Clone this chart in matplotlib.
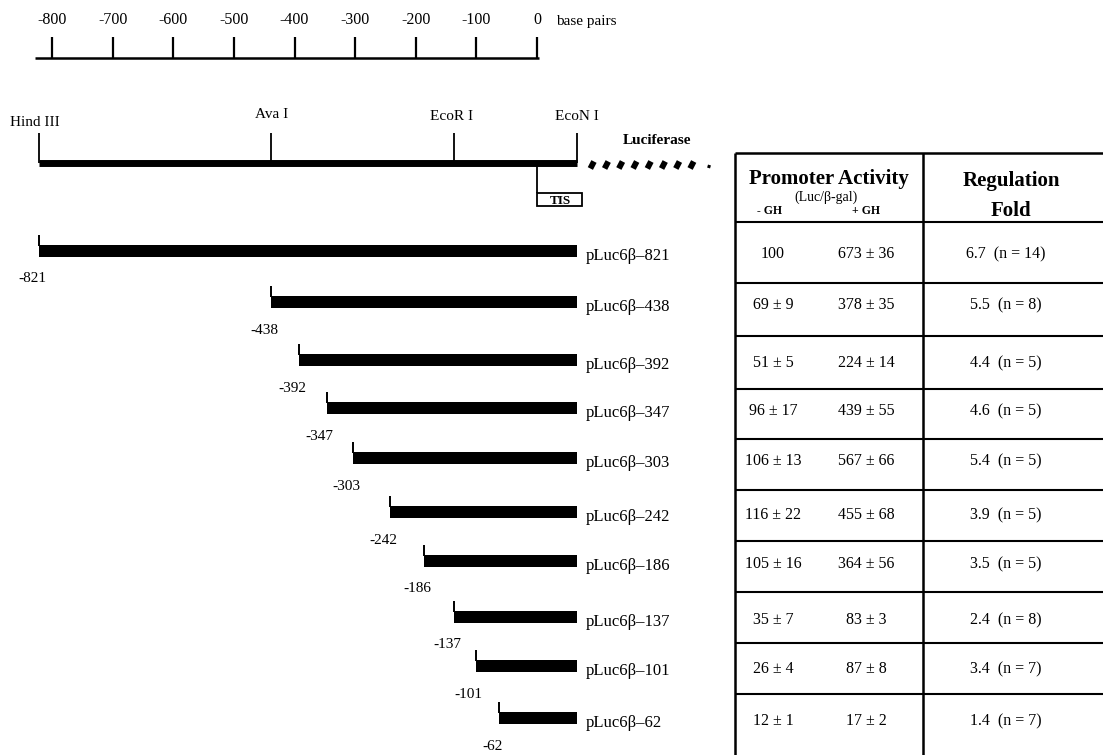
import matplotlib
matplotlib.use("Agg")
import matplotlib.pyplot as plt
from matplotlib.patches import Rectangle

plt.rcParams['font.family'] = ['Liberation Serif', 'DejaVu Serif']

# ---------------- data ----------------
scale_ticks = [-800, -700, -600, -500, -400, -300, -200, -100, 0]
site_names = ['Hind III', 'Ava I', 'EcoR I', 'EcoN I']
site_pos = [-821, -438, -137, 66]
map_end = 66
tis_pos = 0

starts = [-821, -438, -392, -347, -303, -242, -186, -137, -101, -62]
constructs = ['pLuc6β–821', 'pLuc6β–438', 'pLuc6β–392', 'pLuc6β–347', 'pLuc6β–303',
              'pLuc6β–242', 'pLuc6β–186', 'pLuc6β–137', 'pLuc6β–101', 'pLuc6β–62']
minus_gh = ['100', '69 ± 9', '51 ± 5', '96 ± 17', '106 ± 13', '116 ± 22',
            '105 ± 16', '35 ± 7', '26 ± 4', '12 ± 1']
plus_gh = ['673 ± 36', '378 ± 35', '224 ± 14', '439 ± 55', '567 ± 66', '455 ± 68',
           '364 ± 56', '83 ± 3', '87 ± 8', '17 ± 2']
fold = [6.7, 5.5, 4.4, 4.6, 5.4, 3.9, 3.5, 2.4, 3.4, 1.4]
n_obs = [14, 8, 5, 5, 5, 5, 5, 8, 7, 7]

# ---------------- layout ----------------
W, H = 1103, 755
PX0, PXS = 537.0, 0.60625      # pixel of 0 bp, pixels per bp
row_y = [251, 302, 360, 408, 458, 512, 561, 617, 666, 718]

fig = plt.figure(figsize=(W / 100, H / 100), dpi=100)
fig.patch.set_facecolor('white')
ax = fig.add_axes([0, 0, 1, 1])
ax.set_xlim(-PX0 / PXS, (W - PX0) / PXS)
ax.set_ylim(H, 0)
ax.axis('off')

# scale bar
ax.hlines(58, -828, 3, color='black', lw=1.8)
ax.vlines(scale_ticks, 37, 58, color='black', lw=1.6)
for t in scale_ticks:
    ax.text(t, 20, f'{t}', ha='center', va='center', fontsize=11.5)
ax.text(31, 22, 'base pairs', ha='left', va='center', fontsize=11)

# restriction map
ax.hlines(163, site_pos[0], map_end, color='black', lw=5)
ax.vlines(site_pos, 133, 163, color='black', lw=1.3)
site_label_y = [123, 115, 117, 117]
site_label_dx = [-8, 0, -4, 0]
for name, p, ly, dx in zip(site_names, site_pos, site_label_y, site_label_dx):
    ax.text(p + dx, ly, name, ha='center', va='center', fontsize=11)
ax.text(198, 140, 'Luciferase', ha='center', va='center', fontsize=11, fontweight='bold')
# luciferase hatched continuation
dash_x = [88 + i * 23.5 for i in range(8)]
for dx in dash_x:
    ax.plot([dx, dx + 6], [168.5, 161.5], color='black', lw=4.2, solid_capstyle='butt')
ax.plot([283, 284.5], [168, 165], color='black', lw=2.2, solid_capstyle='butt')

# TIS
ax.vlines(tis_pos, 166, 193, color='black', lw=1.3)
ax.add_patch(Rectangle((tis_pos, 193), 74, 13, fill=False, ec='black', lw=1.3))
ax.text(tis_pos + 38, 200.5, 'TIS', ha='center', va='center', fontsize=9.5, fontweight='bold')

# deletion constructs
widths = [map_end - s for s in starts]
ax.barh(row_y, widths, left=starts, height=12, color='black', edgecolor='none')
ax.vlines(starts, [y - 16 for y in row_y], [y - 5 for y in row_y], color='black', lw=1.4)
for s, y, lab in zip(starts, row_y, constructs):
    ax.annotate(f'{s}', (s, y), xytext=(-7, -28), textcoords='offset pixels',
                ha='center', va='center', fontsize=11)
    ax.text(map_end + 15, y + 5, lab, ha='left', va='center', fontsize=12)

# ---------------- table ----------------
tx = fig.add_axes([0, 0, 1, 1])
tx.set_xlim(0, W)
tx.set_ylim(H, 0)
tx.axis('off')
tx.patch.set_alpha(0)

TL, TM, TR, TT = 735, 923, W, 153
tx.vlines([TL, TM], TT, H, color='black', lw=1.8)
tx.hlines(TT, TL, TR, color='black', lw=1.8)
hlines_y = [222, 283, 336, 389, 439, 490, 541, 592, 643, 694]
tx.hlines(hlines_y, TL, TR, color='black', lw=1.5)

tx.text(829, 179, 'Promoter Activity', ha='center', va='center', fontsize=15, fontweight='bold')
tx.text(826, 197, '(Luc/β-gal)', ha='center', va='center', fontsize=10)
tx.text(770, 211, '- GH', ha='center', va='center', fontsize=8.5, fontweight='bold')
tx.text(866, 211, '+ GH', ha='center', va='center', fontsize=8.5, fontweight='bold')
tx.text(1011, 181, 'Regulation', ha='center', va='center', fontsize=15, fontweight='bold')
tx.text(1011, 211, 'Fold', ha='center', va='center', fontsize=15, fontweight='bold')

text_y = [y + 3 for y in row_y]
for y, a, b, f, nn in zip(text_y, minus_gh, plus_gh, fold, n_obs):
    tx.text(773, y, a, ha='center', va='center', fontsize=11.5)
    tx.text(866, y, b, ha='center', va='center', fontsize=11.5)
    tx.text(1006, y, f'{f:.1f}  (n = {nn})', ha='center', va='center', fontsize=11.5)

fig.savefig('out.png', dpi=100, facecolor='white')
